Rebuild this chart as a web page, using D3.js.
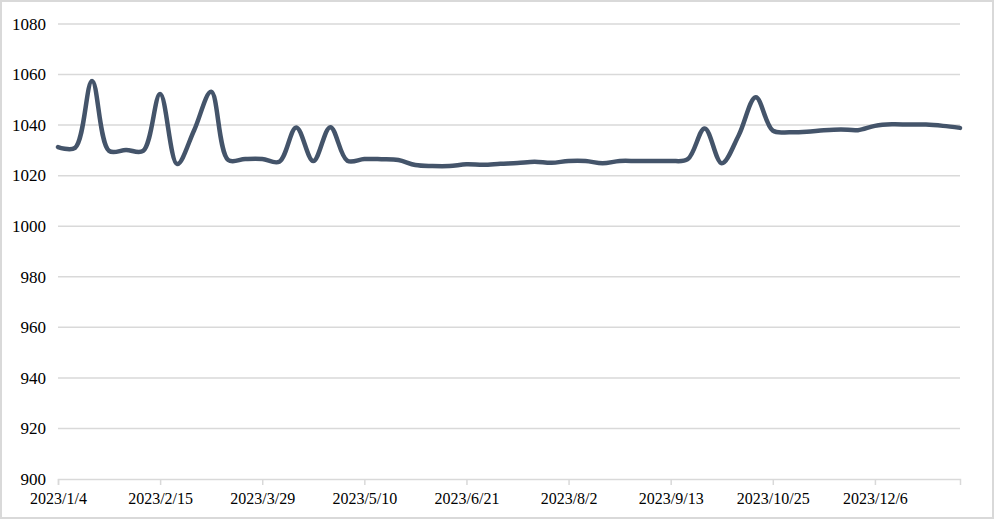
<!DOCTYPE html>
<html>

<head>
  <meta charset="utf-8">
  <title>2023 weekly line</title>
  <style>
    body { margin: 0; background: #fff; }
    text { font-family: "Liberation Serif", "Times New Roman", serif; fill: #000; }
  </style>
</head>

<body>
  <svg width="994" height="519"></svg>
  <script src="https://d3js.org/d3.v7.min.js"></script>
  <script>
    // 1. data
    var startDate = "2023/1/4";
    var endDate = "2024/1/10";
    var values = [
      1031.3, 1031.0, 1057.5, 1029.8, 1030.2, 1029.8, 1052.3, 1024.6, 1038.0, 1053.2,
      1026.2, 1026.6, 1026.6, 1025.5, 1039.1, 1025.8, 1039.2, 1025.9, 1026.6, 1026.5,
      1026.2, 1024.2, 1023.8, 1023.8, 1024.5, 1024.3, 1024.7, 1025.0, 1025.5, 1025.1,
      1025.8, 1025.8, 1024.9, 1025.8, 1025.8, 1025.8, 1025.8, 1026.5, 1038.7, 1024.9,
      1036.0, 1051.0, 1037.8, 1037.2, 1037.4, 1038.0, 1038.3, 1038.0, 1039.7, 1040.3,
      1040.2, 1040.2, 1039.7, 1038.9
    ];
    var xTickLabels = ["2023/1/4", "2023/2/15", "2023/3/29", "2023/5/10", "2023/6/21",
      "2023/8/2", "2023/9/13", "2023/10/25", "2023/12/6"];
    var yTicks = [900, 920, 940, 960, 980, 1000, 1020, 1040, 1060, 1080];

    var parse = d3.timeParse("%Y/%-m/%-d");
    var fmt = function (d) {
      return d.getFullYear() + "/" + (d.getMonth() + 1) + "/" + d.getDate();
    };
    var dates = d3.timeDay.range(parse(startDate), d3.timeDay.offset(parse(endDate), 1), 7);
    var data = values.map(function (v, i) {
      return { date: dates[i], value: v };
    });

    // 2. scales
    var svg = d3.select("svg");
    var x = d3.scaleTime()
      .domain([parse(startDate), parse(endDate)])
      .range([58, 960]);
    var y = d3.scaleLinear()
      .domain([900, 1080])
      .range([479, 24]);

    // outer frame
    svg.append("rect")
      .attr("x", 1).attr("y", 1)
      .attr("width", 992).attr("height", 517)
      .attr("fill", "none")
      .attr("stroke", "#d9d9d9")
      .attr("stroke-width", 2);

    // gridlines
    svg.append("g")
      .selectAll("line")
      .data(yTicks.slice(1))
      .enter()
      .append("line")
      .attr("x1", 58).attr("x2", 960)
      .attr("y1", function (d) { return y(d); })
      .attr("y2", function (d) { return y(d); })
      .attr("stroke", "#d9d9d9")
      .attr("stroke-width", 1.5);

    // y labels
    svg.append("g")
      .selectAll("text")
      .data(yTicks)
      .enter()
      .append("text")
      .attr("x", 46)
      .attr("y", function (d) { return y(d); })
      .attr("dy", "0.34em")
      .attr("text-anchor", "end")
      .style("font-size", "17px")
      .text(function (d) { return d; });

    // x axis
    var xAxis = d3.axisBottom(x)
      .tickValues(xTickLabels.map(parse))
      .tickFormat(fmt)
      .tickSize(6)
      .tickPadding(8);
    var gx = svg.append("g")
      .attr("transform", "translate(0,479)")
      .call(xAxis);
    gx.select(".domain").attr("stroke", "#d9d9d9").attr("stroke-width", 1.5);
    gx.selectAll(".tick line").attr("stroke", "#d9d9d9").attr("stroke-width", 1.5);
    gx.selectAll(".tick text")
      .style("font-family", "'Liberation Serif', 'Times New Roman', serif")
      .style("font-size", "16px")
      .attr("fill", "#000");

    // 3. line
    var line = d3.line()
      .x(function (d) { return x(d.date); })
      .y(function (d) { return y(d.value); })
      .curve(d3.curveCatmullRom.alpha(0.5));

    svg.append("path")
      .datum(data)
      .attr("d", line)
      .attr("fill", "none")
      .attr("stroke", "#44546a")
      .attr("stroke-width", 4.5)
      .attr("stroke-linejoin", "round")
      .attr("stroke-linecap", "round");
  </script>
</body>

</html>
